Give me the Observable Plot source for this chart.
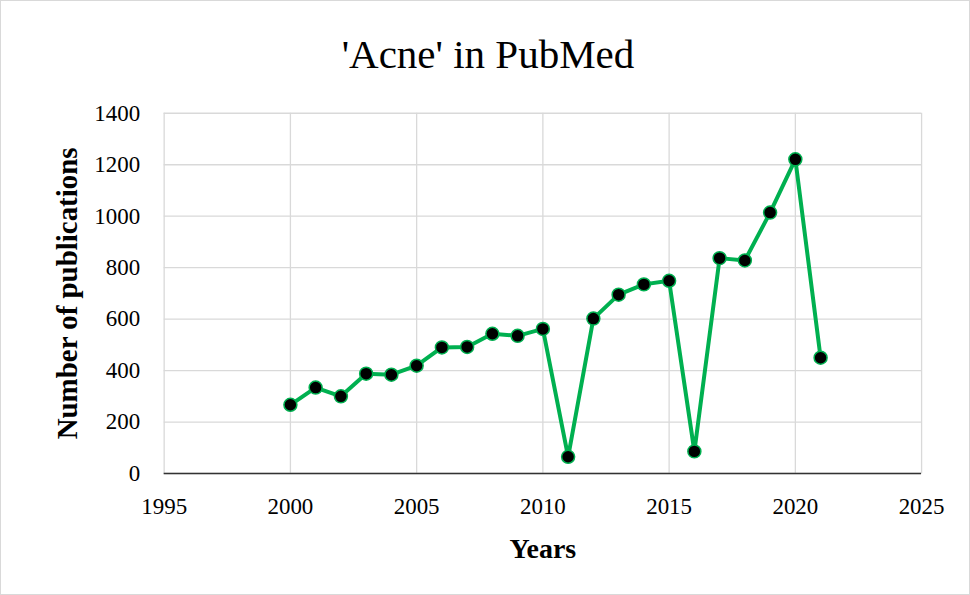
<!DOCTYPE html>
<html>
<head>
<meta charset="utf-8">
<script src="https://cdn.jsdelivr.net/npm/d3@7"></script>
<script src="https://cdn.jsdelivr.net/npm/@observablehq/plot@0.6"></script>
<style>
  html, body { margin: 0; padding: 0; background: #fff; }
  #wrap { position: relative; width: 968px; height: 593px; border: 1px solid #d9d9d9; overflow: hidden; }
  #title { position: absolute; left: 0; width: 100%; top: 30px; text-align: center; line-height: 1.15;
           font-family: "Liberation Serif", serif; font-size: 41px; color: #000; padding-left: 6px; box-sizing: border-box; }
  #wrap svg { position: absolute; left: -1px; top: -1px; }
</style>
</head>
<body>
<div id="wrap"><div id="title">'Acne' in PubMed</div></div>
<script>
const years = [2000, 2001, 2002, 2003, 2004, 2005, 2006, 2007, 2008, 2009, 2010,
               2011, 2012, 2013, 2014, 2015, 2016, 2017, 2018, 2019, 2020, 2021];
const publications = [267, 334, 300, 388, 384, 419, 490, 492, 543, 535, 562,
                      65, 602, 695, 735, 749, 86, 837, 828, 1014, 1221, 450];
const xTicks = [1995, 2000, 2005, 2010, 2015, 2020, 2025];
const yTicks = [0, 200, 400, 600, 800, 1000, 1200, 1400];

const data = years.map((y, i) => ({year: y, value: publications[i]}));

const chart = Plot.plot({
  width: 970,
  height: 595,
  marginLeft: 164,
  marginRight: 47,
  marginTop: 113,
  marginBottom: 121,
  style: {fontFamily: "Liberation Serif, serif", fontSize: "23px", color: "#000", background: "transparent"},
  x: {domain: [1995, 2025], ticks: xTicks, tickFormat: d => String(d), label: null},
  y: {domain: [0, 1400], ticks: yTicks, tickFormat: d => String(d), label: null},
  marks: [
    Plot.gridX(xTicks, {stroke: "#d9d9d9", strokeOpacity: 1, strokeWidth: 1.3}),
    Plot.gridY(yTicks, {stroke: "#d9d9d9", strokeOpacity: 1, strokeWidth: 1.3}),
    Plot.axisX({ticks: xTicks, tickSize: 0, tickPadding: 24, tickFormat: d => String(d), label: null, fontSize: 23}),
    Plot.axisY({ticks: yTicks, tickSize: 0, tickPadding: 24, tickFormat: d => String(d), label: null, fontSize: 23}),
    Plot.ruleY([0], {stroke: "#333", strokeWidth: 1.5}),
    Plot.line(data, {x: "year", y: "value", stroke: "#00b050", strokeWidth: 4}),
    Plot.dot(data, {x: "year", y: "value", r: 6.5, fill: "#000", stroke: "#00b050", strokeWidth: 1.5}),
    Plot.text(["Years"], {frameAnchor: "bottom", dy: 85, text: d => d, fontWeight: "bold", fontSize: 28}),
    Plot.text(["Number of publications"], {frameAnchor: "left", dx: -97, rotate: -90, textAnchor: "middle", text: d => d, fontWeight: "bold", fontSize: 29})
  ]
});
document.getElementById("wrap").appendChild(chart);
</script>
</body>
</html>
